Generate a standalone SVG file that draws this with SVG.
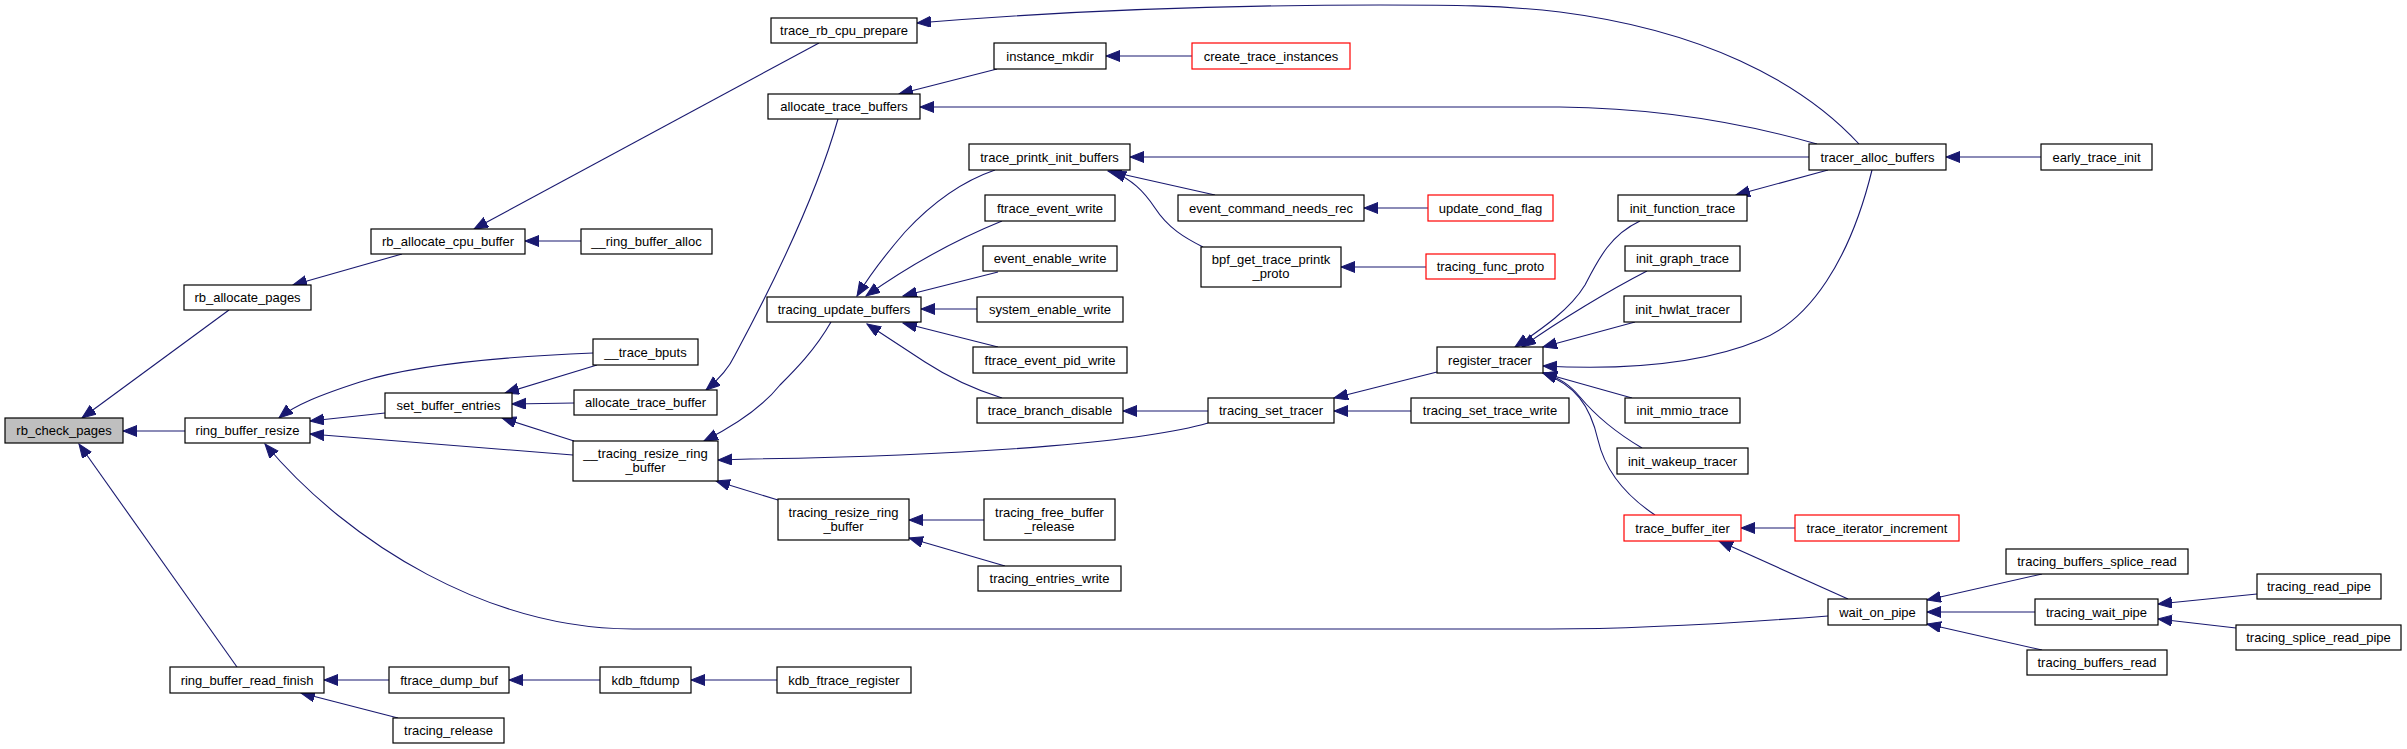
<svg xmlns="http://www.w3.org/2000/svg" width="2407" height="749" viewBox="0 0 2407 749">
<style>
.n rect{fill:#fff;stroke:#000;stroke-width:1.2}
.n.r rect{stroke:#f00}
.n.h rect{fill:#bfbfbf}
.n text{font-family:"Liberation Sans",Arial,sans-serif;font-size:13px;fill:#000;text-anchor:middle}
#edges path{fill:none;stroke:#191970;stroke-width:1.1;marker-end:url(#ah)}
</style>
<defs>
<marker id="ah" markerUnits="userSpaceOnUse" markerWidth="15" markerHeight="12" refX="14" refY="5.5" orient="auto">
<path d="M0,0 L14,5.5 L0,11 z" fill="#191970" stroke="#191970" stroke-width="1"/>
</marker>
</defs>
<rect width="2407" height="749" fill="#fff"/>
<g id="edges">
<path d="M229,310 L82,418"/>
<path d="M185,431 L123,431"/>
<path d="M237,667 L79,444"/>
<path d="M402,254 L293,285"/>
<path d="M819,43 L474,229"/>
<path d="M581,241 L525,241"/>
<path d="M1859,144 C1800,80 1700,30 1560,12 C1500,5 1450,5 1380,5 C1200,5 1050,12 917,23"/>
<path d="M997,69 L899,94"/>
<path d="M1192,56 L1106,56"/>
<path d="M1817,144 C1740,122 1650,108 1560,107 L920,107"/>
<path d="M838,119 C815,200 770,290 735,355 C728,370 718,380 706,390"/>
<path d="M593,353 C520,356 420,363 360,382 C320,395 295,405 279,418"/>
<path d="M597,365 L505,393"/>
<path d="M385,413 L310,421"/>
<path d="M574,403 L512,404"/>
<path d="M574,441 L502,418"/>
<path d="M573,455 L310,434"/>
<path d="M1828,616 C1750,622 1650,629 1550,629 L633,629 C490,629 350,545 265,444"/>
<path d="M995,170 C960,182 930,205 905,232 C885,255 868,278 857,296"/>
<path d="M1002,221 C960,238 910,265 866,296"/>
<path d="M998,272 L903,296"/>
<path d="M977,309 L921,309"/>
<path d="M998,347 L903,323"/>
<path d="M1002,398 C970,388 945,375 925,362 L867,324"/>
<path d="M831,322 C815,350 795,370 780,385 C760,410 730,428 704,441"/>
<path d="M1208,423 C1150,440 1000,455 750,459 L718,460"/>
<path d="M778,500 L716,481"/>
<path d="M984,520 L909,520"/>
<path d="M1005,566 L909,538"/>
<path d="M1809,157 L1130,157"/>
<path d="M1215,195 L1108,171"/>
<path d="M1203,247 C1185,238 1168,228 1155,208 C1143,190 1132,180 1112,171"/>
<path d="M1428,208 L1364,208"/>
<path d="M1426,267 L1341,267"/>
<path d="M1640,221 C1610,235 1598,260 1585,285 C1570,310 1540,330 1515,347"/>
<path d="M1647,271 C1610,290 1560,320 1522,347"/>
<path d="M1635,322 L1543,347"/>
<path d="M1872,170 C1850,260 1810,320 1760,340 C1700,365 1620,370 1543,366"/>
<path d="M1632,398 L1543,373"/>
<path d="M1642,448 C1615,432 1595,415 1580,397 C1570,385 1560,378 1543,373"/>
<path d="M1655,515 C1625,495 1605,470 1598,440 C1590,405 1575,385 1543,373"/>
<path d="M1437,372 L1334,398"/>
<path d="M2041,157 L1946,157"/>
<path d="M1828,170 L1736,195"/>
<path d="M1208,411 L1123,411"/>
<path d="M1411,411 L1334,411"/>
<path d="M1795,528 L1741,528"/>
<path d="M1848,599 L1719,541"/>
<path d="M2042,574 L1927,600"/>
<path d="M2035,612 L1927,612"/>
<path d="M2042,650 L1927,624"/>
<path d="M2257,594 L2158,604"/>
<path d="M2236,628 L2158,619"/>
<path d="M389,680 L324,680"/>
<path d="M600,680 L509,680"/>
<path d="M777,680 L691,680"/>
<path d="M398,718 L301,693"/>
</g>
<g id="rb_check_pages" class="n h"><rect x="5" y="418" width="118" height="25"/><text x="64" y="435">rb_check_pages</text></g>
<g id="rb_allocate_pages" class="n"><rect x="184" y="285" width="127" height="25"/><text x="247.5" y="302">rb_allocate_pages</text></g>
<g id="ring_buffer_resize" class="n"><rect x="185" y="418" width="125" height="25"/><text x="247.5" y="435">ring_buffer_resize</text></g>
<g id="ring_buffer_read_finish" class="n"><rect x="170" y="667" width="154" height="26"/><text x="247" y="684.5">ring_buffer_read_finish</text></g>
<g id="rb_allocate_cpu_buffer" class="n"><rect x="371" y="229" width="154" height="25"/><text x="448" y="246">rb_allocate_cpu_buffer</text></g>
<g id="__ring_buffer_alloc" class="n"><rect x="581" y="229" width="131" height="25"/><text x="646.5" y="246">__ring_buffer_alloc</text></g>
<g id="__trace_bputs" class="n"><rect x="593" y="339" width="105" height="26"/><text x="645.5" y="356.5">__trace_bputs</text></g>
<g id="set_buffer_entries" class="n"><rect x="385" y="393" width="127" height="25"/><text x="448.5" y="410">set_buffer_entries</text></g>
<g id="allocate_trace_buffer" class="n"><rect x="574" y="390" width="143" height="25"/><text x="645.5" y="407">allocate_trace_buffer</text></g>
<g id="__tracing_resize_ring_buffer" class="n"><rect x="573" y="441" width="145" height="40"/><text x="645.5" y="458">__tracing_resize_ring</text><text x="645.5" y="472">_buffer</text></g>
<g id="ftrace_dump_buf" class="n"><rect x="389" y="667" width="120" height="26"/><text x="449" y="684.5">ftrace_dump_buf</text></g>
<g id="kdb_ftdump" class="n"><rect x="600" y="667" width="91" height="26"/><text x="645.5" y="684.5">kdb_ftdump</text></g>
<g id="tracing_release" class="n"><rect x="393" y="718" width="111" height="25"/><text x="448.5" y="735">tracing_release</text></g>
<g id="kdb_ftrace_register" class="n"><rect x="777" y="667" width="134" height="26"/><text x="844" y="684.5">kdb_ftrace_register</text></g>
<g id="trace_rb_cpu_prepare" class="n"><rect x="771" y="18" width="146" height="25"/><text x="844" y="35">trace_rb_cpu_prepare</text></g>
<g id="instance_mkdir" class="n"><rect x="994" y="43" width="112" height="26"/><text x="1050" y="60.5">instance_mkdir</text></g>
<g id="create_trace_instances" class="n r"><rect x="1192" y="43" width="158" height="26"/><text x="1271" y="60.5">create_trace_instances</text></g>
<g id="allocate_trace_buffers" class="n"><rect x="768" y="94" width="152" height="25"/><text x="844" y="111">allocate_trace_buffers</text></g>
<g id="trace_printk_init_buffers" class="n"><rect x="969" y="144" width="161" height="26"/><text x="1049.5" y="161.5">trace_printk_init_buffers</text></g>
<g id="ftrace_event_write" class="n"><rect x="985" y="195" width="130" height="26"/><text x="1050" y="212.5">ftrace_event_write</text></g>
<g id="event_command_needs_rec" class="n"><rect x="1178" y="195" width="186" height="26"/><text x="1271" y="212.5">event_command_needs_rec</text></g>
<g id="update_cond_flag" class="n r"><rect x="1428" y="195" width="125" height="26"/><text x="1490.5" y="212.5">update_cond_flag</text></g>
<g id="event_enable_write" class="n"><rect x="983" y="246" width="134" height="25"/><text x="1050" y="263">event_enable_write</text></g>
<g id="bpf_get_trace_printk_proto" class="n"><rect x="1201" y="247" width="140" height="40"/><text x="1271" y="264">bpf_get_trace_printk</text><text x="1271" y="278">_proto</text></g>
<g id="tracing_func_proto" class="n r"><rect x="1426" y="254" width="129" height="25"/><text x="1490.5" y="271">tracing_func_proto</text></g>
<g id="tracing_update_buffers" class="n"><rect x="767" y="297" width="154" height="25"/><text x="844" y="314">tracing_update_buffers</text></g>
<g id="system_enable_write" class="n"><rect x="977" y="297" width="146" height="25"/><text x="1050" y="314">system_enable_write</text></g>
<g id="ftrace_event_pid_write" class="n"><rect x="973" y="347" width="154" height="26"/><text x="1050" y="364.5">ftrace_event_pid_write</text></g>
<g id="register_tracer" class="n"><rect x="1437" y="347" width="106" height="26"/><text x="1490" y="364.5">register_tracer</text></g>
<g id="trace_branch_disable" class="n"><rect x="977" y="398" width="146" height="25"/><text x="1050" y="415">trace_branch_disable</text></g>
<g id="tracing_set_tracer" class="n"><rect x="1208" y="398" width="126" height="25"/><text x="1271" y="415">tracing_set_tracer</text></g>
<g id="tracing_set_trace_write" class="n"><rect x="1411" y="398" width="158" height="25"/><text x="1490" y="415">tracing_set_trace_write</text></g>
<g id="tracing_resize_ring_buffer" class="n"><rect x="778" y="499" width="131" height="41"/><text x="843.5" y="516.5">tracing_resize_ring</text><text x="843.5" y="531">_buffer</text></g>
<g id="tracing_free_buffer_release" class="n"><rect x="984" y="499" width="131" height="41"/><text x="1049.5" y="516.5">tracing_free_buffer</text><text x="1049.5" y="531">_release</text></g>
<g id="tracing_entries_write" class="n"><rect x="978" y="566" width="143" height="25"/><text x="1049.5" y="583">tracing_entries_write</text></g>
<g id="tracer_alloc_buffers" class="n"><rect x="1809" y="144" width="137" height="26"/><text x="1877.5" y="161.5">tracer_alloc_buffers</text></g>
<g id="early_trace_init" class="n"><rect x="2041" y="144" width="111" height="26"/><text x="2096.5" y="161.5">early_trace_init</text></g>
<g id="init_function_trace" class="n"><rect x="1618" y="195" width="129" height="26"/><text x="1682.5" y="212.5">init_function_trace</text></g>
<g id="init_graph_trace" class="n"><rect x="1625" y="246" width="115" height="25"/><text x="1682.5" y="263">init_graph_trace</text></g>
<g id="init_hwlat_tracer" class="n"><rect x="1624" y="296" width="117" height="26"/><text x="1682.5" y="313.5">init_hwlat_tracer</text></g>
<g id="init_mmio_trace" class="n"><rect x="1625" y="398" width="115" height="25"/><text x="1682.5" y="415">init_mmio_trace</text></g>
<g id="init_wakeup_tracer" class="n"><rect x="1617" y="448" width="131" height="26"/><text x="1682.5" y="465.5">init_wakeup_tracer</text></g>
<g id="trace_buffer_iter" class="n r"><rect x="1624" y="515" width="117" height="26"/><text x="1682.5" y="532.5">trace_buffer_iter</text></g>
<g id="trace_iterator_increment" class="n r"><rect x="1795" y="515" width="164" height="26"/><text x="1877" y="532.5">trace_iterator_increment</text></g>
<g id="tracing_buffers_splice_read" class="n"><rect x="2006" y="549" width="182" height="25"/><text x="2097" y="566">tracing_buffers_splice_read</text></g>
<g id="wait_on_pipe" class="n"><rect x="1828" y="599" width="99" height="26"/><text x="1877.5" y="616.5">wait_on_pipe</text></g>
<g id="tracing_wait_pipe" class="n"><rect x="2035" y="599" width="123" height="26"/><text x="2096.5" y="616.5">tracing_wait_pipe</text></g>
<g id="tracing_read_pipe" class="n"><rect x="2257" y="574" width="124" height="25"/><text x="2319" y="591">tracing_read_pipe</text></g>
<g id="tracing_splice_read_pipe" class="n"><rect x="2236" y="625" width="165" height="25"/><text x="2318.5" y="642">tracing_splice_read_pipe</text></g>
<g id="tracing_buffers_read" class="n"><rect x="2027" y="650" width="140" height="25"/><text x="2097" y="667">tracing_buffers_read</text></g>
</svg>
